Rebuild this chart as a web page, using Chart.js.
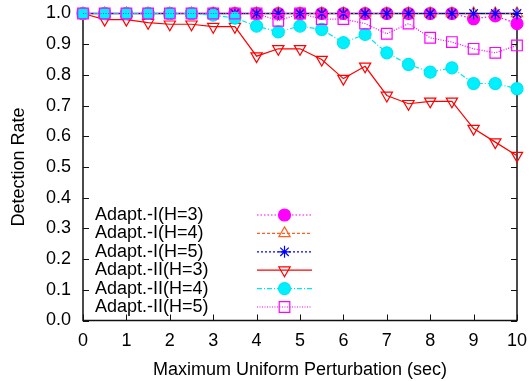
<!DOCTYPE html>
<html>
<head>
<meta charset="utf-8">
<script src="https://cdn.jsdelivr.net/npm/chart.js@4/dist/chart.umd.min.js"></script>
<style>
  html, body { margin: 0; padding: 0; background: #fff; }
  canvas { display: block; }
</style>
</head>
<body>
<canvas id="chart" width="532" height="381"></canvas>
<script>
// x positions (sec)
const perturbation = [0, 0.5, 1, 1.5, 2, 2.5, 3, 3.5, 4, 4.5, 5, 5.5, 6, 6.5, 7, 7.5, 8, 8.5, 9, 9.5, 10];

const seriesNames = ["Adapt.-I(H=3)", "Adapt.-I(H=4)", "Adapt.-I(H=5)",
                     "Adapt.-II(H=3)", "Adapt.-II(H=4)", "Adapt.-II(H=5)"];

const adaptI_H3  = [1, 1, 1, 1, 1, 1, 1, 1, 1, 1, 1, 1, 1, 1, 1, 1, 1, 1, 0.983, 0.992, 0.967];
const adaptI_H4  = [1, 1, 1, 1, 1, 1, 1, 1, 1, 1, 1, 1, 1, 1, 1, 1, 1, 1, 1, 1, 1];
const adaptI_H5  = [1, 1, 1, 1, 1, 1, 1, 1, 1, 1, 1, 1, 1, 1, 1, 1, 1, 1, 1, 1, 1];
const adaptII_H3 = [1, 0.98, 0.98, 0.97, 0.965, 0.965, 0.957, 0.957, 0.861, 0.885, 0.885, 0.85, 0.788, 0.828, 0.733, 0.706, 0.714, 0.714, 0.625, 0.581, 0.537];
const adaptII_H4 = [1, 1, 1, 1, 1, 1, 0.995, 0.985, 0.959, 0.94, 0.959, 0.948, 0.905, 0.932, 0.872, 0.834, 0.809, 0.823, 0.772, 0.772, 0.755];
const adaptII_H5 = [1, 1, 1, 1, 1, 1, 1, 1, 1, 0.976, 1, 0.982, 0.982, 0.967, 0.934, 0.967, 0.921, 0.907, 0.885, 0.872, 0.896];

const yTicks = [0, 0.1, 0.2, 0.3, 0.4, 0.5, 0.6, 0.7, 0.8, 0.9, 1.0];
const xTicks = [0, 1, 2, 3, 4, 5, 6, 7, 8, 9, 10];

const FONT = "'Liberation Sans', Arial, Helvetica, sans-serif";
Chart.defaults.font.family = FONT;
Chart.defaults.color = "#000";

function pts(vals) {
  return vals.map((v, i) => ({ x: perturbation[i], y: v }));
}

const styles = [
  { color: "#ff00ff", dash: [1.5, 2],    point: "circle",   radius: 6,   fill: "#ff00ff", rot: 0 },
  { color: "#ff6020", dash: [3, 2],      point: "triangle", radius: 6.5, fill: "rgba(0,0,0,0)", rot: 0 },
  { color: "#0000ff", dash: [2, 2],      point: "star",     radius: 6,   fill: "rgba(0,0,0,0)", rot: 0 },
  { color: "#ff0000", dash: [],          point: "triangle", radius: 6.5, fill: "rgba(0,0,0,0)", rot: 180 },
  { color: "#00e5f0", dash: [5, 2, 1, 2], point: "circle",  radius: 6,   fill: "#00f0ff", rot: 0 },
  { color: "#ff00ff", dash: [1, 1.5],    point: "rect",     radius: 7.5, fill: "rgba(0,0,0,0)", rot: 0 }
];
const allValues = [adaptI_H3, adaptI_H4, adaptI_H5, adaptII_H3, adaptII_H4, adaptII_H5];

const datasets = allValues.map((vals, i) => ({
  label: seriesNames[i],
  data: pts(vals),
  borderColor: styles[i].color,
  borderDash: styles[i].dash,
  borderWidth: 1.2,
  pointStyle: styles[i].point,
  pointRadius: styles[i].radius,
  pointRotation: styles[i].rot,
  pointBorderColor: styles[i].color,
  pointBackgroundColor: styles[i].fill,
  pointBorderWidth: 1.2,
  tension: 0,
  clip: false,
  order: 5 - i
}));

// frame with inward ticks on all four sides
const framePlugin = {
  id: "frame",
  beforeDatasetsDraw(chart) {
    const { ctx, chartArea: a, scales } = chart;
    ctx.save();
    ctx.strokeStyle = "#111";
    ctx.lineWidth = 1.5;
    ctx.strokeRect(a.left, a.top, a.right - a.left, a.bottom - a.top);
    ctx.lineWidth = 1;
    ctx.beginPath();
    yTicks.forEach(v => {
      const y = Math.round(scales.y.getPixelForValue(v)) + 0.5;
      ctx.moveTo(a.left, y); ctx.lineTo(a.left + 6, y);
      ctx.moveTo(a.right, y); ctx.lineTo(a.right - 6, y);
    });
    xTicks.forEach(v => {
      const x = Math.round(scales.x.getPixelForValue(v)) + 0.5;
      ctx.moveTo(x, a.bottom); ctx.lineTo(x, a.bottom - 6);
      ctx.moveTo(x, a.top); ctx.lineTo(x, a.top + 6);
    });
    ctx.stroke();
    ctx.restore();
  }
};

// gnuplot-like key inside the plot
const keyPlugin = {
  id: "key",
  afterDatasetsDraw(chart) {
    const { ctx } = chart;
    ctx.save();
    ctx.font = "18px " + FONT;
    ctx.textBaseline = "middle";
    ctx.textAlign = "left";
    datasets.forEach((ds, i) => {
      const y = 215 + i * 18.4;
      ctx.fillStyle = "#000";
      ctx.fillText(ds.label, 95, y);
      ctx.strokeStyle = ds.borderColor;
      ctx.lineWidth = ds.borderWidth;
      ctx.setLineDash(ds.borderDash);
      ctx.beginPath();
      ctx.moveTo(257, y); ctx.lineTo(312, y);
      ctx.stroke();
      ctx.setLineDash([]);
      ctx.strokeStyle = ds.pointBorderColor;
      ctx.fillStyle = ds.pointBackgroundColor;
      ctx.lineWidth = ds.pointBorderWidth;
      Chart.helpers.drawPoint(ctx, {
        pointStyle: ds.pointStyle,
        radius: ds.pointRadius,
        rotation: ds.pointRotation,
        borderWidth: ds.pointBorderWidth
      }, 284.5, y);
    });
    ctx.restore();
  }
};

new Chart(document.getElementById("chart"), {
  type: "line",
  data: { datasets: datasets },
  options: {
    responsive: false,
    animation: false,
    layout: { padding: { top: 13.5, right: 15, left: 0, bottom: 0 } },
    plugins: { legend: { display: false }, tooltip: { enabled: false } },
    scales: {
      x: {
        type: "linear",
        min: 0,
        max: 10,
        afterFit(scale) {
          scale.height = 60.5;
          scale.paddingLeft = 0; scale.paddingRight = 0;
        },
        afterBuildTicks(scale) { scale.ticks = xTicks.map(v => ({ value: v })); },
        grid: { display: false, drawTicks: false },
        border: { display: false },
        ticks: { padding: 10, font: { size: 18 }, color: "#000", maxRotation: 0,
                 callback: v => String(v) },
        title: { display: true, text: "Maximum Uniform Perturbation (sec)",
                 font: { size: 18 }, color: "#000", padding: { top: 10, bottom: 0 } }
      },
      y: {
        min: 0,
        max: 1,
        afterFit(scale) {
          scale.width = 83;
          scale.paddingTop = 0; scale.paddingBottom = 0;
        },
        afterBuildTicks(scale) { scale.ticks = yTicks.map(v => ({ value: v })); },
        grid: { display: false, drawTicks: false },
        border: { display: false },
        ticks: { padding: 12, font: { size: 18 }, color: "#000",
                 callback: v => v.toFixed(1) },
        title: { display: true, text: "Detection Rate",
                 font: { size: 18 }, color: "#000", padding: { top: 8, bottom: 0 } }
      }
    }
  },
  plugins: [framePlugin, keyPlugin]
});
</script>
</body>
</html>
